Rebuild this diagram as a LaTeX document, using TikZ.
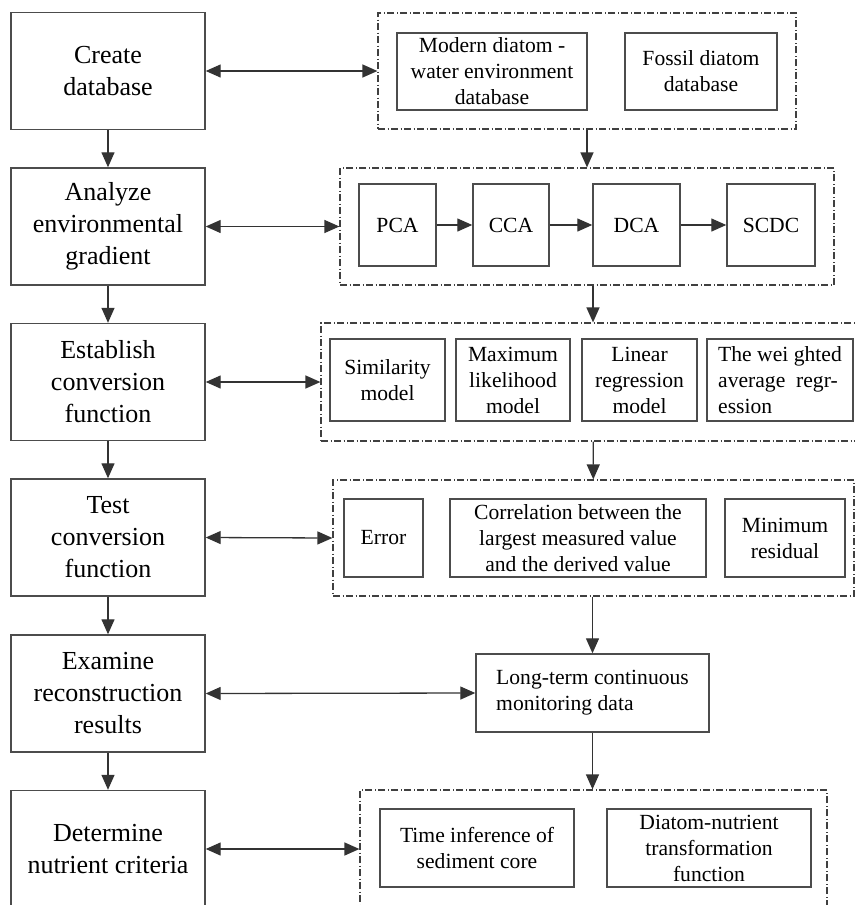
\documentclass[tikz,border=0pt]{standalone}
\usepackage{fontspec}
\setmainfont{Liberation Serif}
\usetikzlibrary{arrows.meta}

\begin{document}
\begin{tikzpicture}[
    x=0.5pt, y=-0.5pt,
    stepbox/.style={draw=black!70, line width=0.7pt, minimum width=97pt, minimum height=58.5pt,
      inner sep=1pt, align=center, font=\fontsize{13}{16}\selectfont},
    group/.style={draw=black!75, line width=0.6pt,
      dash pattern=on 3.5pt off 1.25pt on 0.5pt off 1.25pt, inner sep=0pt},
    item/.style={draw=black!70, line width=0.7pt, inner sep=0.5pt, align=center,
      font=\fontsize{10.8}{13}\selectfont},
    arr/.style={-{Triangle[length=7.5pt,width=6.5pt]}, line width=0.65pt, black!80},
    darr/.style={{Triangle[length=7.5pt,width=6.5pt]}-{Triangle[length=7.5pt,width=6.5pt]},
      line width=0.65pt, black!80}
  ]
  \useasboundingbox (0,0) rectangle (855,905);

  % Main steps on the left
  \node[stepbox] (create) at (108,71) {Create\\database};
  \node[stepbox] (analyze) at (108,226.5) {Analyze\\environmental\\gradient};
  \node[stepbox] (establish) at (108,382) {Establish\\conversion\\function};
  \node[stepbox] (test) at (108,537.5) {Test\\conversion\\function};
  \node[stepbox] (examine) at (108,693.5) {Examine\\reconstruction\\results};
  \node[stepbox] (determine) at (108,849) {Determine\\nutrient criteria};

  % Databases
  \node[group, minimum width=209pt, minimum height=58pt] (dbgrp) at (587,71) {};
  \node[item, minimum width=95pt, minimum height=38.5pt] (modern) at (492,71.5)
    {Modern diatom -\\water environment\\database};
  \node[item, minimum width=76pt, minimum height=38.5pt] (fossil) at (701,71.5)
    {Fossil diatom\\database};

  % Gradient analysis
  \node[group, minimum width=247pt, minimum height=58.5pt] (gradgrp) at (587,226.5) {};
  \node[item, minimum width=38.5pt, minimum height=41pt] (pca) at (397.5,225) {PCA};
  \node[item, minimum width=38pt, minimum height=41pt] (cca) at (511,225) {CCA};
  \node[item, minimum width=43.5pt, minimum height=41pt] (dca) at (636.5,225) {DCA};
  \node[item, minimum width=44pt, minimum height=41pt] (scdc) at (771,225) {SCDC};

  % Conversion models
  \node[group, minimum width=272pt, minimum height=59pt] (modelgrp) at (593,382) {};
  \node[item, minimum width=57.5pt, minimum height=41pt] (simil) at (387.5,380)
    {Similarity\\model};
  \node[item, minimum width=57pt, minimum height=41pt] (maxlik) at (513,380)
    {Maximum\\likelihood\\model};
  \node[item, minimum width=57.5pt, minimum height=41pt] (linreg) at (639.5,380)
    {Linear\\regression\\model};
  \node[item, minimum width=73pt, minimum height=41pt, align=left] (wavg) at (780,380)
    {The wei ghted\\average\ \ regr-\\ession};

  % Tests
  \node[group, minimum width=260.5pt, minimum height=58pt] (testgrp) at (593.5,538) {};
  \node[item, minimum width=39.5pt, minimum height=39pt] (err) at (383.5,538) {Error};
  \node[item, minimum width=128pt, minimum height=39pt] (corr) at (578,538)
    {Correlation between the\\largest measured value\\and the derived value};
  \node[item, minimum width=60pt, minimum height=39pt] (minres) at (785,538)
    {Minimum\\residual};

  % Monitoring data
  \node[item, minimum width=116.5pt, minimum height=39pt, align=left] (mondata) at (592.5,693)
    {Long-term continuous\\monitoring data};

  % Criteria
  \node[group, minimum width=233.5pt, minimum height=59pt] (critgrp) at (593.5,849) {};
  \node[item, minimum width=97pt, minimum height=39pt] (timeinf) at (477,848)
    {Time inference of\\sediment core};
  \node[item, minimum width=102pt, minimum height=39pt] (transf) at (709,848)
    {Diatom-nutrient\\transformation\\function};

  % Connectors
  \foreach \a/\b in {create/analyze, analyze/establish, establish/test, test/examine, examine/determine}
    \draw[arr] (\a) -- (\b);
  \foreach \a/\b in {create/dbgrp, analyze/gradgrp, establish/modelgrp, test/testgrp,
      examine/mondata, determine/critgrp}
    \draw[darr] (\a.east) -- (\b.west);
  \foreach \a/\b in {pca/cca, cca/dca, dca/scdc}
    \draw[arr] (\a) -- (\b);
  \draw[arr] (dbgrp) -- (gradgrp);
  \draw[arr] (gradgrp.south -| modelgrp.north) -- (modelgrp.north);
  \draw[arr] (modelgrp) -- (testgrp);
  \draw[arr] (testgrp.south -| mondata.north) -- (mondata.north);
  \draw[arr] (mondata.south) -- (mondata.south |- critgrp.north);
\end{tikzpicture}
\end{document}
